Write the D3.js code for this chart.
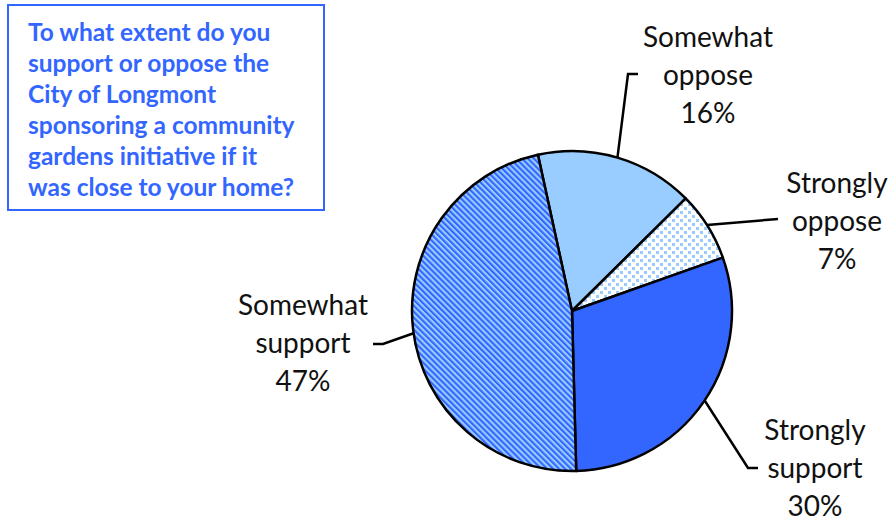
<!DOCTYPE html>
<html>
<head>
<meta charset="utf-8">
<script src="https://cdn.jsdelivr.net/npm/d3@7/dist/d3.min.js"></script>
<style>
  html, body { margin: 0; padding: 0; background: #fff; }
  svg { display: block; }
</style>
</head>
<body>
<svg id="chart" width="892" height="523"></svg>
<script>
// Survey responses, clockwise from the top of the pie
const categories = ["Somewhat oppose", "Strongly oppose", "Strongly support", "Somewhat support"];
const values = [16, 7, 30, 47];
const labelLines = [
  ["Somewhat", "oppose", "16%"],
  ["Strongly", "oppose", "7%"],
  ["Strongly", "support", "30%"],
  ["Somewhat", "support", "47%"]
];
const titleLines = [
  "To what extent do you",
  "support or oppose the",
  "City of Longmont",
  "sponsoring a community",
  "gardens initiative if it",
  "was close to your home?"
];

const svg = d3.select("#chart");
const blue = "#3366FF";
const light = "#99CCFF";

// Fill patterns
const defs = svg.append("defs");
const stripes = defs.append("pattern")
  .attr("id", "stripes").attr("patternUnits", "userSpaceOnUse")
  .attr("width", 4.2).attr("height", 8)
  .attr("patternTransform", "rotate(-45)");
stripes.append("rect").attr("width", 4.2).attr("height", 8).attr("fill", light);
stripes.append("rect").attr("width", 2.1).attr("height", 8).attr("fill", blue);

const dots = defs.append("pattern")
  .attr("id", "dots").attr("patternUnits", "userSpaceOnUse")
  .attr("width", 8).attr("height", 8);
dots.append("rect").attr("width", 8).attr("height", 8).attr("fill", "#fff");
dots.append("rect").attr("x", 0).attr("y", 0).attr("width", 3).attr("height", 3).attr("fill", light);
dots.append("rect").attr("x", 4).attr("y", 4).attr("width", 3).attr("height", 3).attr("fill", light);

const fills = ["#99CCFF", "url(#dots)", blue, "url(#stripes)"];

// Pie
const cx = 572, cy = 311, r = 160;
const start = -12.3 * Math.PI / 180;
const pie = d3.pie().sort(null).value(d => d)
  .startAngle(start).endAngle(start + 2 * Math.PI);
const arcs = pie(values);
const arc = d3.arc().innerRadius(0).outerRadius(r);

const g = svg.append("g").attr("transform", `translate(${cx},${cy})`);
g.selectAll("path.slice").data(arcs).join("path")
  .attr("class", "slice")
  .attr("d", arc)
  .attr("fill", (d, i) => fills[i])
  .attr("stroke", "#000")
  .attr("stroke-width", 2.5)
  .attr("stroke-linejoin", "round");

// Leader lines: start on the rim at a given angle, bend at an elbow, end at a short tail
const leaders = [
  { ang: 16.5, elbow: [628, 74], tail: [638, 74] },
  { ang: 57.5, elbow: null, tail: [778, 219] },
  { ang: 124, elbow: [748, 468], tail: [758, 468] },
  { ang: 262, elbow: [383, 344], tail: [373, 344] }
];
leaders.forEach(l => {
  const a = l.ang * Math.PI / 180;
  const p0 = [cx + r * Math.sin(a), cy - r * Math.cos(a)];
  const pts = [p0];
  if (l.elbow) pts.push(l.elbow);
  pts.push(l.tail);
  svg.append("path")
    .attr("d", d3.line()(pts))
    .attr("fill", "none").attr("stroke", "#000").attr("stroke-width", 2.5);
});

// Slice labels
const labelPos = [[708, 37], [837, 183], [815, 430], [303, 305]];
const lineGap = 38;
labelLines.forEach((lines, i) => {
  const t = svg.append("text")
    .attr("text-anchor", "middle")
    .attr("font-family", "Lato, 'Open Sans', sans-serif")
    .attr("font-size", 28)
    .attr("fill", "#111");
  lines.forEach((s, j) => {
    t.append("tspan")
      .attr("x", labelPos[i][0])
      .attr("y", labelPos[i][1] + j * lineGap)
      .attr("dy", "0.35em")
      .text(s);
  });
});

// Question box
svg.append("rect")
  .attr("x", 8).attr("y", 5).attr("width", 316).attr("height", 205)
  .attr("fill", "#fff").attr("stroke", blue).attr("stroke-width", 2);
const title = svg.append("text")
  .attr("font-family", "Lato, 'Open Sans', sans-serif")
  .attr("font-weight", "bold")
  .attr("font-size", 24.5)
  .attr("fill", blue);
titleLines.forEach((s, j) => {
  title.append("tspan")
    .attr("x", 28).attr("y", 32 + j * 31)
    .attr("dy", "0.35em")
    .text(s);
});
</script>
</body>
</html>
